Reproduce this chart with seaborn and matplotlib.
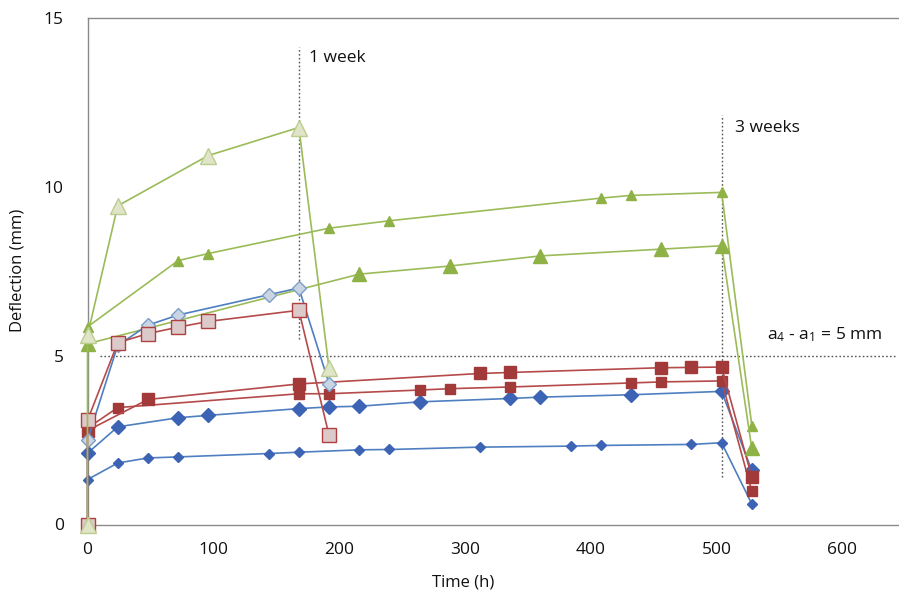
import matplotlib
matplotlib.use("Agg")
import matplotlib.pyplot as plt
import seaborn as sns
import pandas as pd

# ---- data (time in h, deflection in mm) ----
t_tri_light = [0, 0, 24, 96, 168, 192]
y_tri_light = [0, 5.60, 9.43, 10.92, 11.75, 4.62]
t_dia_light = [0, 0, 24, 48, 72, 144, 168, 192]
y_dia_light = [0, 2.50, 5.30, 5.90, 6.20, 6.80, 7.00, 4.17]
t_sq_light = [0, 0, 24, 48, 72, 96, 168, 192]
y_sq_light = [0, 3.08, 5.38, 5.65, 5.84, 6.01, 6.34, 2.64]

t_tri_small = [0, 72, 96, 192, 240, 408, 432, 504, 528]
y_tri_small = [5.85, 7.81, 8.02, 8.77, 8.99, 9.66, 9.74, 9.83, 2.93]
t_tri_large = [0, 216, 288, 360, 456, 504, 528]
y_tri_large = [5.35, 7.41, 7.65, 7.95, 8.15, 8.25, 2.25]
t_sq_large = [0, 48, 168, 312, 336, 456, 480, 504, 528]
y_sq_large = [2.78, 3.70, 4.16, 4.47, 4.50, 4.64, 4.65, 4.66, 1.40]
t_sq_small = [0, 24, 168, 192, 264, 288, 336, 432, 456, 504, 528]
y_sq_small = [2.85, 3.46, 3.87, 3.87, 3.98, 4.02, 4.07, 4.19, 4.22, 4.25, 0.99]
t_dia_large = [0, 24, 72, 96, 168, 192, 216, 264, 336, 360, 432, 504, 528]
y_dia_large = [2.11, 2.89, 3.16, 3.23, 3.43, 3.48, 3.50, 3.63, 3.73, 3.77, 3.84, 3.94, 1.60]
t_dia_small = [0, 24, 48, 72, 144, 168, 216, 240, 312, 384, 408, 480, 504, 528]
y_dia_small = [1.33, 1.82, 1.97, 2.00, 2.10, 2.14, 2.21, 2.22, 2.29, 2.32, 2.34, 2.37, 2.42, 0.61]

x_ticks = [0, 100, 200, 300, 400, 500, 600]
y_ticks = [0, 5, 10, 15]
week1_t, week3_t = 168, 504
limit_y = 5

sns.set_theme(style="white")
FONT = "Open Sans"
plt.rcParams["font.family"] = [FONT, "DejaVu Sans"]
plt.rcParams["mathtext.fontset"] = "custom"
plt.rcParams["mathtext.rm"] = FONT
plt.rcParams["mathtext.it"] = FONT

fig = plt.figure(figsize=(8.99, 6.01), dpi=100)
ax = fig.add_axes([87.5 / 899, 1 - 524.5 / 601, 1 - 87.5 / 899, (524.5 - 17.7) / 601])

BLUE_L, BLUE_M = "#4f7fc0", "#3d63b5"
RED_L, RED_M = "#b54a4a", "#a33a3a"
GREEN_L, GREEN_M = "#9bbb59", "#8fb247"

def draw(t, y, lc, marker, ms, mfc, mec, z):
    df = pd.DataFrame({"t": t, "y": y})
    sns.lineplot(data=df, x="t", y="y", ax=ax, estimator=None, sort=False,
                 color=lc, lw=1.2, marker=marker, markersize=ms,
                 markerfacecolor=mfc, markeredgecolor=mec, markeredgewidth=1.0,
                 zorder=z, clip_on=False)

draw(t_dia_small, y_dia_small, BLUE_L, "D", 5.2, BLUE_M, BLUE_M, 3)
draw(t_dia_large, y_dia_large, BLUE_L, "D", 7.0, BLUE_M, BLUE_M, 3)
draw(t_sq_small, y_sq_small, RED_L, "s", 6.5, RED_M, RED_M, 3)
draw(t_sq_large, y_sq_large, RED_L, "s", 9.0, RED_M, RED_M, 3)
draw(t_tri_small, y_tri_small, GREEN_L, "^", 7.5, GREEN_M, GREEN_M, 3)
draw(t_tri_large, y_tri_large, GREEN_L, "^", 9.5, GREEN_M, GREEN_M, 3)
draw(t_dia_light, y_dia_light, BLUE_L, "D", 7.0, "#c9d5e2", "#7d9dc8", 4)
draw(t_sq_light, y_sq_light, RED_L, "s", 10.0, "#dcc9c9", "#b23f3f", 4)
draw(t_tri_light, y_tri_light, GREEN_L, "^", 11.5, "#dfe5c6", "#bccd91", 5)

# reference lines
dot = dict(color="#555555", lw=1.0, ls=(0, (1.2, 1.6)), zorder=2)
ax.plot([week1_t, week1_t], [5.49, 14.14], **dot)
ax.plot([week3_t, week3_t], [1.41, 12.12], **dot)
ax.plot([10, 642], [limit_y, limit_y], **dot)

txt = dict(fontsize=12.5, color="#111111", va="center", ha="left")
ax.text(176, 13.8, "1 week", **txt)
ax.text(514.5, 11.73, "3 weeks", **txt)
ax.text(540.4, 5.61, r"a$_4$ - a$_1$ = 5 mm", **txt)

ax.set_xlim(0, 645)
ax.set_ylim(0, 15)
ax.set_xticks(x_ticks)
ax.set_yticks(y_ticks)
ax.tick_params(axis="both", which="major", direction="out", colors="#888888",
               labelcolor="#111111", labelsize=12.5)
ax.tick_params(axis="x", length=4.5, width=1, pad=8)
ax.tick_params(axis="y", length=5, width=1, pad=12)
for s in ["left", "bottom", "top"]:
    ax.spines[s].set_color("#8a8a8a")
    ax.spines[s].set_linewidth(1.0)
ax.spines["right"].set_visible(False)
ax.grid(False)

ax.set_xlabel("Time (h)", fontsize=12, color="#111111")
ax.set_ylabel("Deflection (mm)", fontsize=12, color="#111111")
ax.xaxis.set_label_coords(0.463, -0.098)
ax.yaxis.set_label_coords(-0.076, 0.502)

fig.savefig("out.png", dpi=100)
